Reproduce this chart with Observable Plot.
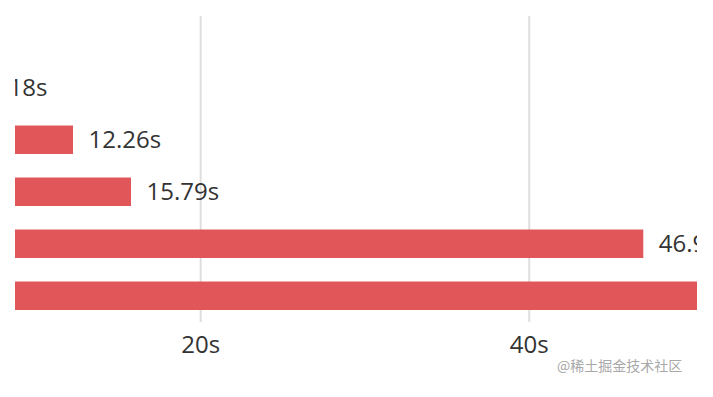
<!DOCTYPE html>
<html>
<head>
<meta charset="utf-8">
<script src="https://cdn.jsdelivr.net/npm/d3@7"></script>
<script src="https://cdn.jsdelivr.net/npm/@observablehq/plot@0.6"></script>
<style>
  html, body { margin: 0; padding: 0; background: #fff; }
  #wrap { position: relative; width: 713px; height: 397px; overflow: hidden; }
  #mark { position: absolute; left: 557px; top: 355px; font: 14px "Noto Sans CJK SC", sans-serif; color: #a8a8a8; white-space: nowrap; }
</style>
</head>
<body>
<div id="wrap"><div id="mark">@稀土掘金技术社区</div></div>
<script>
const categories = ["A", "B", "C", "D", "E"];
const seconds = [6.18, 12.26, 15.79, 46.97, 58.37];
const tickValues = [20, 40];

const data = categories.map((c, i) => ({name: c, value: seconds[i]}));
const fmt = v => v.toFixed(2) + "s";

const chart = Plot.plot({
  width: 713,
  height: 397,
  marginTop: 16,
  marginBottom: 75,
  marginLeft: 15,
  marginRight: 16,
  style: {fontFamily: "'Open Sans', sans-serif", background: "#fff"},
  x: {domain: [8.73, 50.24], axis: null},
  y: {domain: categories, range: [61.75, 321.75], paddingInner: 0.452, paddingOuter: 0.226, round: false, axis: null},
  marks: [
    Plot.gridX(tickValues, {stroke: "#dedede", strokeOpacity: 1, strokeWidth: 2}),
    Plot.axisX(tickValues, {tickSize: 0, tickPadding: 13, fontSize: 24, fill: "#333", label: null, tickFormat: d => d + "s"}),
    Plot.barX(data, {x1: 0, x2: "value", y: "name", fill: "#E15759", clip: true}),
    Plot.text(data, {x: "value", y: "name", text: d => fmt(d.value), dx: 15, textAnchor: "start", fontSize: 24, fill: "#333", clip: true})
  ]
});
document.getElementById("wrap").prepend(chart);
</script>
</body>
</html>
